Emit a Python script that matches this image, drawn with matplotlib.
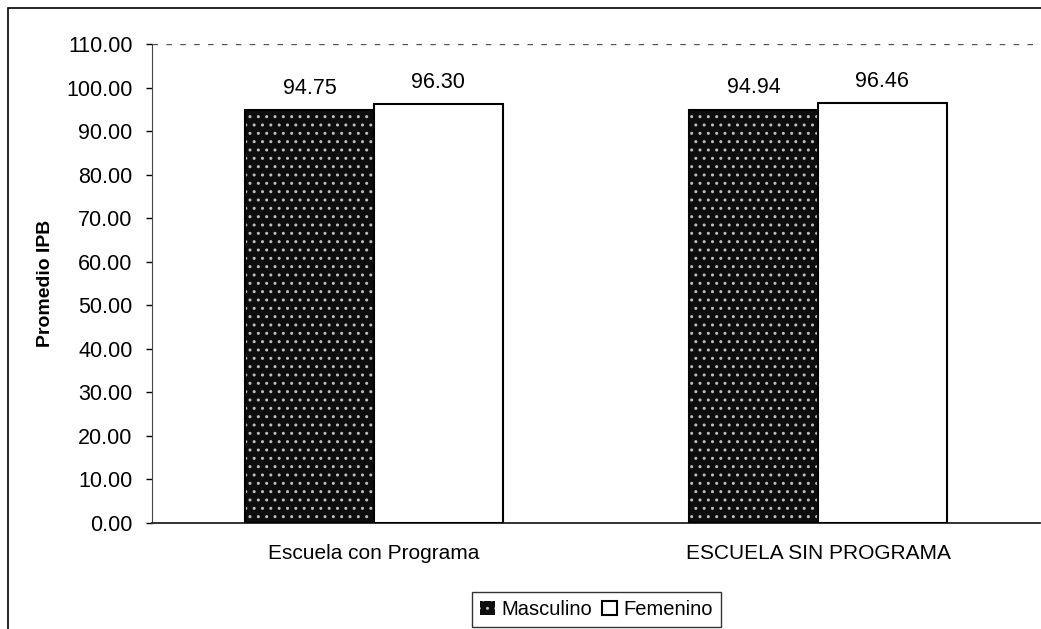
import matplotlib.pyplot as plt
import numpy as np
from matplotlib.patches import Rectangle

plt.rcParams['font.family'] = ['Liberation Sans', 'DejaVu Sans']

categorias = ['Escuela con Programa', 'ESCUELA SIN PROGRAMA']
masculino = [94.75, 94.94]
femenino = [96.30, 96.46]
series = ['Masculino', 'Femenino']

fig = plt.figure(figsize=(10.41, 6.29), dpi=100)
ax = fig.add_axes([0.146, 0.1685, 0.853, 0.7615])

x = np.arange(len(categorias))
width = 0.29

# relleno moteado para Masculino (borde aparte)
b1 = ax.bar(x - width/2, masculino, width, color='#0d0d0d', hatch='..',
            edgecolor='#bdbdbd', linewidth=0, label=series[0], zorder=2)
ax.bar(x - width/2, masculino, width, color='none', edgecolor='black',
       linewidth=1.5, zorder=3)
b2 = ax.bar(x + width/2, femenino, width, color='white', edgecolor='black',
            linewidth=1.5, label=series[1], zorder=3)

ax.bar_label(b1, labels=[f'{v:.2f}' for v in masculino], padding=8, fontsize=15.5)
ax.bar_label(b2, labels=[f'{v:.2f}' for v in femenino], padding=8, fontsize=15.5)

ax.set_xlim(-0.5, 1.5)
ax.set_ylim(0, 110)
ax.set_yticks(np.arange(0, 111, 10))
ax.set_yticklabels([f'{v:.2f}' for v in np.arange(0, 111, 10)], fontsize=15.5)
ax.set_xticks(x)
ax.set_xticklabels(categorias, fontsize=15)
ax.tick_params(axis='x', length=0, pad=15)
ax.tick_params(axis='y', length=4, width=1, pad=10)
ax.set_ylabel('Promedio IPB', fontsize=14, fontweight='bold', labelpad=9)

ax.axhline(110, color='#555555', linestyle=(0, (4, 6)), linewidth=1, zorder=1)
for s in ['top', 'right']:
    ax.spines[s].set_visible(False)
ax.spines['left'].set_color('#444444')
ax.spines['bottom'].set_color('#222222')
ax.spines['bottom'].set_linewidth(1.3)

# marco exterior del grafico
fig.patches.append(Rectangle((8/1041, -0.1), 1.2, 1 - 8/629 + 0.1,
                             transform=fig.transFigure, fill=False,
                             edgecolor='black', linewidth=1.2))

leg = fig.legend(handles=[b1, b2], labels=series, loc='upper center',
                 bbox_to_anchor=(0.573, 0.059), ncol=2, fontsize=14.5,
                 frameon=True, fancybox=False, edgecolor='black',
                 handlelength=0.75, handleheight=0.75, handletextpad=0.3,
                 columnspacing=0.5, borderpad=0.4, borderaxespad=0)
leg.get_frame().set_linewidth(1)

fig.savefig('out.png', dpi=100)
